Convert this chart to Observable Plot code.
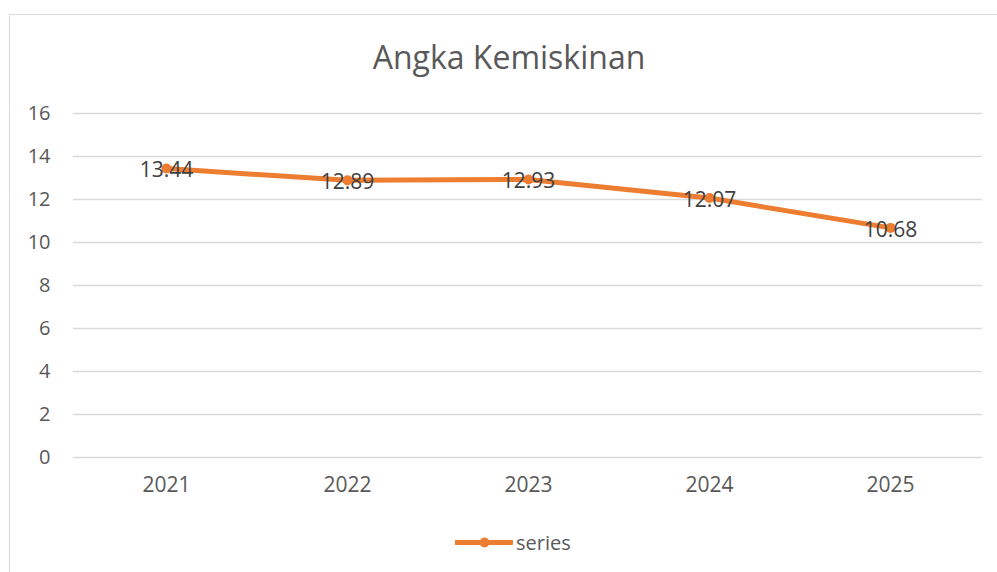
<!DOCTYPE html>
<html>
<head>
<meta charset="utf-8">
<script src="https://cdn.jsdelivr.net/npm/d3@7"></script>
<script src="https://cdn.jsdelivr.net/npm/@observablehq/plot@0.6"></script>
<style>
  html, body { margin: 0; padding: 0; background: #fff; }
  #wrap { position: relative; width: 997px; height: 572px; overflow: hidden; font-family: "Open Sans", sans-serif; }
  #frame { position: absolute; left: 9px; top: 14px; width: 1000px; height: 600px; border: 1.5px solid #d9d9d9; box-sizing: border-box; }
  #title { position: absolute; left: 0; width: 1018px; top: 37px; text-align: center; font-size: 32px; color: #595959; line-height: 40px; }
  #chart { position: absolute; left: 0; top: 0; }
  #legend { position: absolute; left: 455px; top: 530px; height: 24px; display: flex; align-items: center; font-size: 20px; color: #595959; }
  #legend svg { margin-right: 3px; }
</style>
</head>
<body>
<div id="wrap">
  <div id="frame"></div>
  <div id="chart"></div>
  <div id="title">Angka Kemiskinan</div>
  <div id="legend"></div>
</div>
<script>
const years = ["2021", "2022", "2023", "2024", "2025"];
const values = [13.44, 12.89, 12.93, 12.07, 10.68];
const yTicks = [0, 2, 4, 6, 8, 10, 12, 14, 16];
const seriesName = "series";
const lineColor = "#ED7D31";

const data = years.map((y, i) => ({year: y, value: values[i]}));

const chart = Plot.plot({
  width: 997,
  height: 572,
  marginLeft: 73,
  marginRight: 15,
  marginTop: 113,
  marginBottom: 115,
  style: {fontFamily: "Open Sans, sans-serif", background: "transparent", color: "#595959"},
  x: {type: "point", domain: years, padding: 0.5},
  y: {domain: [0, 16]},
  marks: [
    Plot.ruleY(yTicks, {stroke: "#d9d9d9", strokeWidth: 1.5}),
    Plot.axisY({ticks: yTicks, tickSize: 0, tickPadding: 23, fontSize: 20, fill: "#595959", label: null}),
    Plot.axisX({tickSize: 0, tickPadding: 20, fontSize: 21, fill: "#595959", label: null}),
    Plot.line(data, {x: "year", y: "value", stroke: lineColor, strokeWidth: 5, strokeLinecap: "round", strokeLinejoin: "round"}),
    Plot.dot(data, {x: "year", y: "value", r: 5, fill: lineColor, stroke: "none"}),
    Plot.text(data, {x: "year", y: "value", text: d => d.value.toFixed(2), fill: "#404040", fontSize: 21, dy: 2})
  ]
});
document.getElementById("chart").appendChild(chart);

// legend built with Plot as well
const legendSvg = Plot.plot({
  width: 58, height: 20, margin: 0,
  x: {domain: [0, 1], axis: null}, y: {domain: [0, 1], axis: null},
  style: {background: "transparent"},
  marks: [
    Plot.ruleY([0.5], {x1: 0.02, x2: 0.98, stroke: lineColor, strokeWidth: 5, strokeLinecap: "round"}),
    Plot.dot([[0.5, 0.5]], {r: 5, fill: lineColor, stroke: "none"})
  ]
});
const leg = document.getElementById("legend");
leg.appendChild(legendSvg);
const lab = document.createElement("span");
lab.textContent = seriesName;
leg.appendChild(lab);
</script>
</body>
</html>
